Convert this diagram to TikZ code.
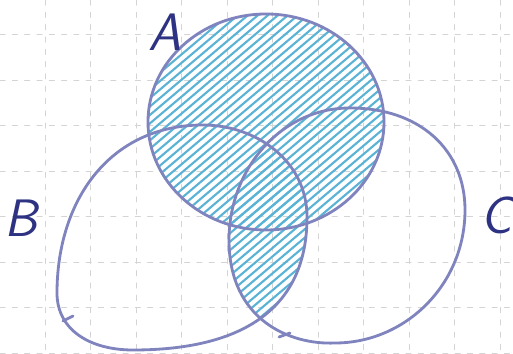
\documentclass[tikz,border=0pt]{standalone}
\usetikzlibrary{arrows.meta}
\definecolor{penblue}{HTML}{8084BE}
\definecolor{inkblue}{HTML}{2E3282}
\definecolor{hatchblue}{HTML}{5AB3D5}
\definecolor{gridgray}{HTML}{D4D4D4}

\begin{document}
\begin{tikzpicture}[x=0.02cm,y=-0.02cm,line cap=round,line join=round,
  outline/.style={draw=penblue,line width=1.6pt},
  hatch/.style={hatchblue,line width=1.2pt},
  gridline/.style={gridgray,line width=0.4pt,dash pattern=on 3pt off 4pt},
  setlabel/.style={text=inkblue,font=\fontsize{30}{34}\selectfont\sffamily\itshape}]
\useasboundingbox[fill=white] (0,0) rectangle (513,354);
% ---------- graph paper ----------
\foreach \x in {45,90.5,...,510} \draw[gridline] (\x,0) -- (\x,354);
\foreach \y in {34.5,80,...,354} \draw[gridline] (0,\y) -- (513,\y);
% ---------- the three sets ----------
\path[save path=\setA] (266,122) ellipse [x radius=118,y radius=108];
\path[save path=\setB] (203,125) .. controls (255,125) and (307,160) .. (307,217)
  .. controls (307,312) and (238,350) .. (133,350)
  .. controls (90,350) and (57,330) .. (57,293)
  .. controls (57,200) and (110,125) .. cycle;
\path[save path=\setC] (350,108) .. controls (420,108) and (465,150) .. (465,210)
  .. controls (465,285) and (405,343) .. (335,343)
  .. controls (290,345) and (229,320) .. (229,240)
  .. controls (229,170) and (280,108) .. cycle;
% ---------- hatching: A and (B and C) ----------
\begin{scope}
  \clip[use path=\setA];
  \foreach \k in {-240,-230,...,400} \draw[hatch] (\k,360) -- ++(420,-355);
\end{scope}
\begin{scope}
  \clip[use path=\setB];
  \clip[use path=\setC];
  \foreach \k in {-240,-230,...,400} \draw[hatch] (\k,360) -- ++(420,-355);
\end{scope}
% ---------- outlines ----------
\path[outline,use path=\setB];
\path[outline,use path=\setC];
\path[outline,use path=\setA];
\draw[outline] (63,321) -- (73,316);
\draw[outline] (279,337) -- (290,333);
% ---------- labels ----------
\node[setlabel] (labA) at (165,32) {A};
\node[setlabel] (labB) at (21,218) {B};
\node[setlabel] (labC) at (496,215) {C};
\end{tikzpicture}
\end{document}
